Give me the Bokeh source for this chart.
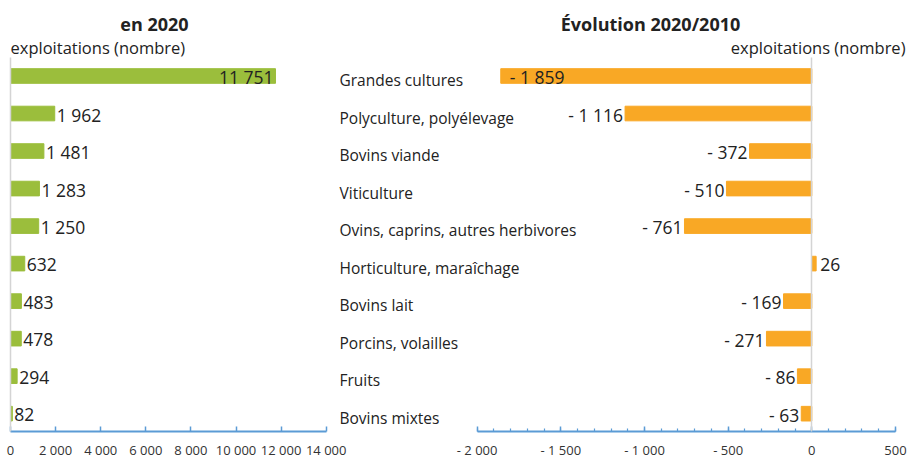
from bokeh.plotting import figure
from bokeh.models import (ColumnDataSource, Range1d, LinearAxis, FixedTicker,
                          CustomJSTickFormatter)
from bokeh.core.properties import value
from bokeh.embed import file_html
from bokeh.resources import INLINE

# ---------------- data ----------------
categories = ["Grandes cultures", "Polyculture, polyélevage", "Bovins viande", "Viticulture",
              "Ovins, caprins, autres herbivores", "Horticulture, maraîchage", "Bovins lait",
              "Porcins, volailles", "Fruits", "Bovins mixtes"]
exploitations_2020 = [11751, 1962, 1481, 1283, 1250, 632, 483, 478, 294, 82]
evolution_2020_2010 = [-1859, -1116, -372, -510, -761, 26, -169, -271, -86, -63]
left_ticks = [0, 2000, 4000, 6000, 8000, 10000, 12000, 14000]
right_ticks = [-2000, -1500, -1000, -500, 0, 500]
right_minor_ticks = list(range(-2000, 501, 100))
title_left = "en 2020"
title_right = "Évolution 2020/2010"
unit_label = "exploitations (nombre)"

# ---------------- geometry (canvas pixels) ----------------
W, H = 908, 458
ZERO_L, K_L = 10.0, 315.7 / 14000     # left panel: px of zero, px per unit
ZERO_R, K_R = 811.3, 418.3 / 2500     # right panel
ROW0, ROW_STEP = 75.5, 37.52          # centre of first row, row spacing (px)
TOP_PX, AXIS_PX = 57, 431             # top of zero lines, axis baseline


def lx(px):
    return (px - ZERO_L) / K_L


def rx(px):
    return (px - ZERO_R) / K_R


def ry(py):
    return (py - ROW0) / ROW_STEP


def fr(v):
    s = f"{abs(v):,}".replace(",", " ")
    return ("- " + s) if v < 0 else s


GREEN = "#9BBE3C"
ORANGE = "#F9A825"
AXIS = "#5B9BD5"
ZLINE = "#D4D4D4"
TEXT = "#222222"
FONT = value("Open Sans")

rows = list(range(len(categories)))

p = figure(frame_width=W, frame_height=H,
           x_range=Range1d(rx(0), rx(W)),
           y_range=Range1d(ry(H), ry(0)),
           x_axis_location=None, y_axis_location=None,
           toolbar_location=None, output_backend="svg",
           min_border=0)
p.extra_x_ranges = {"left": Range1d(lx(0), lx(W))}
p.outline_line_color = None
p.xgrid.visible = False
p.ygrid.visible = False
p.background_fill_color = "white"
p.border_fill_color = "white"

fmt_code = """
const s = Math.abs(tick).toFixed(0).replace(/\\B(?=(\\d{3})+(?!\\d))/g, " ");
return tick < 0 ? "- " + s : s;
"""


def style_axis(ax):
    ax.axis_line_color = AXIS
    ax.axis_line_width = 2
    ax.major_tick_line_color = AXIS
    ax.major_tick_line_width = 1.5
    ax.major_tick_in = 5
    ax.major_tick_out = 0
    ax.minor_tick_line_color = AXIS
    ax.minor_tick_line_width = 1.2
    ax.minor_tick_in = 3
    ax.minor_tick_out = 0
    ax.major_label_text_font = "Open Sans"
    ax.major_label_text_font_size = "13px"
    ax.major_label_text_color = "#333333"
    ax.major_label_standoff = 9
    ax.formatter = CustomJSTickFormatter(code=fmt_code)


base_y = ry(AXIS_PX)

rax = LinearAxis(ticker=FixedTicker(ticks=right_ticks, minor_ticks=right_minor_ticks),
                 bounds=(right_ticks[0], right_ticks[-1]), fixed_location=base_y)
style_axis(rax)
p.add_layout(rax, "below")

lax = LinearAxis(x_range_name="left", ticker=FixedTicker(ticks=left_ticks, minor_ticks=[]),
                 bounds=(left_ticks[0], left_ticks[-1]), fixed_location=base_y)
style_axis(lax)
p.add_layout(lax, "below")


# zero lines as bare vertical axes
def zero_axis(**kw):
    ax = LinearAxis(ticker=FixedTicker(ticks=[], minor_ticks=[]), fixed_location=0,
                    bounds=(ry(TOP_PX), base_y), **kw)
    ax.axis_line_color = ZLINE
    ax.axis_line_width = 1.5
    ax.major_tick_line_color = None
    ax.minor_tick_line_color = None
    ax.major_label_text_font_size = "0px"
    return ax


p.add_layout(zero_axis(x_range_name="left"), "left")
p.add_layout(zero_axis(), "left")

# bars
BAR_H = 0.39
src_l = ColumnDataSource(dict(
    y=rows, v=exploitations_2020, text=[fr(v) for v in exploitations_2020],
    align=["right" if v > 10000 else "left" for v in exploitations_2020],
    off=[-2 if v > 10000 else 2 for v in exploitations_2020]))
p.hbar(y="y", left=0, right="v", height=BAR_H, color=GREEN, source=src_l, x_range_name="left")
p.text(x="v", y="y", text="text", text_align="align", x_offset="off", source=src_l,
       x_range_name="left", text_baseline="middle", text_font=FONT, text_font_size="17.5px",
       text_color=TEXT, y_offset=1)

src_r = ColumnDataSource(dict(
    y=rows, v=evolution_2020_2010, text=[fr(v) for v in evolution_2020_2010],
    align=["left" if (v < -1500 or v > 0) else "right" for v in evolution_2020_2010],
    off=[9 if v < -1500 else (4 if v > 0 else -2) for v in evolution_2020_2010]))
p.hbar(y="y", left=0, right="v", height=BAR_H, color=ORANGE, source=src_r)
p.text(x="v", y="y", text="text", text_align="align", x_offset="off", source=src_r,
       text_baseline="middle", text_font=FONT, text_font_size="17.5px", text_color=TEXT,
       y_offset=1)

# category labels
src_c = ColumnDataSource(dict(x=[rx(339)] * len(categories), y=rows, text=categories))
p.text(x="x", y="y", text="text", source=src_c, text_align="left", text_baseline="middle",
       y_offset=4, text_font=FONT, text_font_size="15.5px", text_color=TEXT)

# titles & unit labels
p.text(x=[lx(154)], y=[ry(23)], text=[title_left], x_range_name="left",
       text_align="center", text_baseline="middle", text_font=FONT,
       text_font_style="bold", text_font_size="18px", text_color=TEXT)
p.text(x=[rx(650)], y=[ry(23)], text=[title_right],
       text_align="center", text_baseline="middle", text_font=FONT,
       text_font_style="bold", text_font_size="18px", text_color=TEXT)
p.text(x=[lx(10)], y=[ry(47)], text=[unit_label], x_range_name="left",
       text_align="left", text_baseline="middle", text_font=FONT,
       text_font_size="16.5px", text_color=TEXT)
p.text(x=[rx(905)], y=[ry(47)], text=[unit_label],
       text_align="right", text_baseline="middle", text_font=FONT,
       text_font_size="16.5px", text_color=TEXT)

open("out.html", "w").write(file_html(p, INLINE))
